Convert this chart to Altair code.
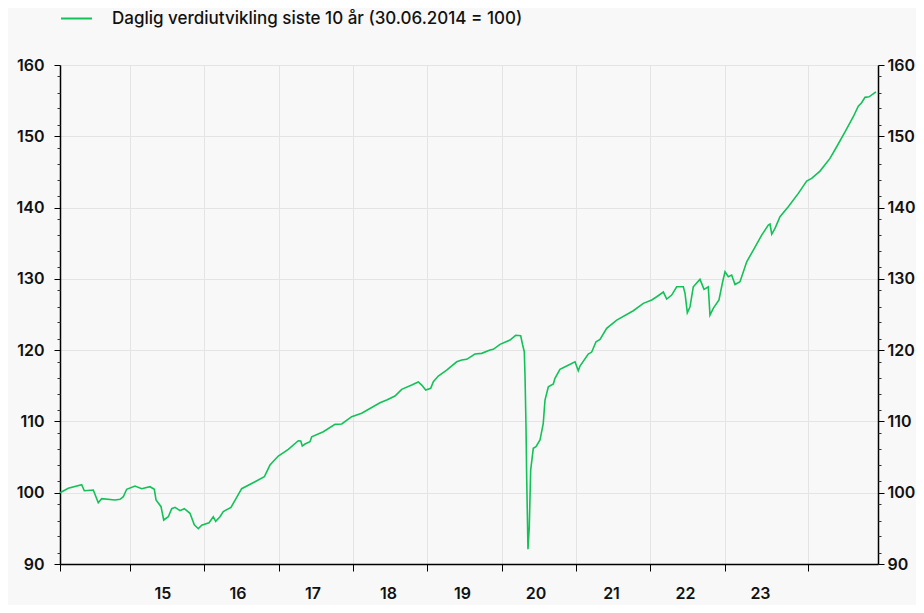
import altair as alt
import pandas as pd

SERIES = "Daglig verdiutvikling siste 10 år (30.06.2014 = 100)"

# decimal year of observation
T = [2014.500, 2014.601, 2014.765, 2014.797, 2014.907, 2014.968, 2015.010, 2015.172, 2015.234, 2015.274,
     2015.315, 2015.417, 2015.499, 2015.600, 2015.653, 2015.674, 2015.735, 2015.768, 2015.824, 2015.866,
     2015.906, 2015.967, 2016.020, 2016.089, 2016.142, 2016.191, 2016.232, 2016.322, 2016.374, 2016.403,
     2016.456, 2016.496, 2016.590, 2016.660, 2016.721, 2016.884, 2016.998, 2017.067, 2017.169, 2017.291,
     2017.413, 2017.443, 2017.462, 2017.495, 2017.556, 2017.577, 2017.719, 2017.862, 2017.944, 2018.066,
     2018.188, 2018.412, 2018.494, 2018.595, 2018.677, 2018.800, 2018.880, 2018.922, 2018.971, 2019.032,
     2019.064, 2019.125, 2019.227, 2019.350, 2019.411, 2019.472, 2019.573, 2019.655, 2019.757, 2019.797,
     2019.879, 2020.001, 2020.071, 2020.132, 2020.156, 2020.176, 2020.185, 2020.197, 2020.205, 2020.221,
     2020.237, 2020.254, 2020.286, 2020.319, 2020.368, 2020.408, 2020.429, 2020.470, 2020.531, 2020.551,
     2020.612, 2020.694, 2020.796, 2020.836, 2020.857, 2020.958, 2021.000, 2021.053, 2021.102, 2021.183,
     2021.306, 2021.509, 2021.631, 2021.734, 2021.795, 2021.876, 2021.917, 2021.978, 2022.039, 2022.120,
     2022.141, 2022.169, 2022.202, 2022.242, 2022.324, 2022.373, 2022.425, 2022.446, 2022.486, 2022.556,
     2022.601, 2022.630, 2022.670, 2022.711, 2022.752, 2022.813, 2022.895, 2022.976, 2023.078, 2023.159,
     2023.180, 2023.201, 2023.241, 2023.302, 2023.403, 2023.526, 2023.628, 2023.689, 2023.791, 2023.913,
     2023.995, 2024.097, 2024.198, 2024.259, 2024.300, 2024.341, 2024.391, 2024.475]

# index value (30.06.2014 = 100)
V = [100.00, 100.62, 101.12, 100.28, 100.38, 98.60, 99.16, 98.98, 99.07, 99.44,
     100.48, 100.94, 100.56, 100.84, 100.48, 98.98, 98.04, 96.17, 96.63, 97.76,
     97.95, 97.48, 97.76, 97.11, 95.51, 94.95, 95.43, 95.79, 96.63, 95.99,
     96.63, 97.34, 97.95, 99.35, 100.56, 101.54, 102.24, 103.88, 105.15, 106.09,
     107.29, 107.25, 106.55, 106.83, 107.15, 107.85, 108.55, 109.59, 109.64, 110.66,
     111.14, 112.62, 113.00, 113.56, 114.50, 115.10, 115.53, 115.10, 114.40, 114.64,
     115.57, 116.37, 117.21, 118.37, 118.61, 118.71, 119.45, 119.55, 120.01, 120.11,
     120.81, 121.42, 122.08, 122.02, 120.72, 119.78, 116.27, 109.26, 102.24, 92.06,
     95.23, 103.18, 106.23, 106.45, 107.39, 109.73, 113.00, 114.87, 115.25, 116.04,
     117.31, 117.77, 118.37, 117.11, 117.77, 119.45, 119.73, 121.18, 121.51, 123.06,
     124.22, 125.53, 126.56, 127.03, 127.49, 128.15, 127.17, 127.73, 128.89, 128.89,
     127.97, 125.25, 126.09, 128.89, 129.93, 128.53, 128.89, 124.92, 125.86, 127.03,
     129.59, 131.00, 130.29, 130.53, 129.20, 129.59, 132.40, 134.04, 136.14, 137.54,
     137.69, 136.28, 137.08, 138.71, 140.11, 141.99, 143.72, 144.09, 145.12, 146.90,
     148.53, 150.63, 152.74, 154.23, 154.70, 155.46, 155.54, 156.24]

X_DOMAIN = [2014.5, 2024.5]
X_TICKS = [2014.5, 2015.356, 2016.264, 2017.174, 2018.086, 2018.990, 2019.900,
           2020.808, 2021.716, 2022.626, 2023.648]
X_LABEL_POS = [2015.752, 2016.670, 2017.586, 2018.510, 2019.414, 2020.313,
               2021.236, 2022.141, 2023.057]
X_LABELS = ["15", "16", "17", "18", "19", "20", "21", "22", "23"]

Y_DOMAIN = [90, 160]
Y_MAJOR = [90, 100, 110, 120, 130, 140, 150, 160]
Y_MINOR_STEPS = [1.6, 3.9, 6.1, 8.4]

GREEN = "#12c257"
FONT = "Inter"
TEXT = "#111111"
GRID = "#e4e4e4"
BG = "#f8f8f8"
AXIS_FS = 16
AXIS_FW = 600

Y_MINOR = [a + s for a in Y_MAJOR[:-1] for s in Y_MINOR_STEPS]

label_expr = " : ".join(
    f"abs(datum.value - {p}) < 0.001 ? '{l}'" for p, l in zip(X_LABEL_POS, X_LABELS)
) + " : ''"

df = pd.DataFrame({"t": T, "v": V, "series": SERIES})

x_scale = alt.Scale(domain=X_DOMAIN, nice=False, zero=False)
y_scale = alt.Scale(domain=Y_DOMAIN, nice=False, zero=False)

base = alt.Chart(df)

line = base.mark_line(strokeWidth=1.6).encode(
    x=alt.X("t:Q", scale=x_scale, title=None,
            axis=alt.Axis(orient="bottom", values=X_TICKS, labels=False, ticks=True,
                          tickSize=7, tickColor="#000", tickWidth=1,
                          domain=True, domainColor="#000", domainWidth=1.5,
                          grid=True, gridColor=GRID, gridWidth=1)),
    y=alt.Y("v:Q", scale=y_scale, title=None,
            axis=alt.Axis(orient="left", values=Y_MAJOR, tickSize=6, tickColor="#000",
                          domain=True, domainColor="#000", domainWidth=1.5,
                          grid=True, gridColor=GRID, gridWidth=1,
                          labelFont=FONT, labelFontSize=AXIS_FS, labelFontWeight=AXIS_FW,
                          labelColor=TEXT, labelPadding=10, labelFlush=False,
                          labelOverlap=False)),
    color=alt.Color("series:N", scale=alt.Scale(range=[GREEN]),
                    legend=alt.Legend(title=None, orient="none", legendX=0, legendY=-63,
                                      symbolType="stroke", symbolSize=961,
                                      symbolStrokeWidth=2, labelFont=FONT,
                                      labelFontSize=17, labelFontWeight=500,
                                      labelColor=TEXT, labelOffset=19, labelLimit=0,
                                      padding=0)),
)

labels_layer = base.mark_line(opacity=0).encode(
    x=alt.X("t:Q", scale=x_scale, title=None,
            axis=alt.Axis(orient="bottom", values=X_LABEL_POS, labelExpr=label_expr,
                          ticks=False, domain=False, grid=False, labelPadding=21,
                          labelFont=FONT, labelFontSize=AXIS_FS, labelFontWeight=AXIS_FW,
                          labelColor=TEXT, labelFlush=False, labelOverlap=False)),
    y=alt.Y("v:Q", scale=y_scale, title=None,
            axis=alt.Axis(orient="right", values=Y_MAJOR, tickSize=6, tickColor="#000",
                          domain=True, domainColor="#000", domainWidth=1.5, grid=False,
                          labelFont=FONT, labelFontSize=AXIS_FS, labelFontWeight=AXIS_FW,
                          labelColor=TEXT, labelPadding=3, labelFlush=False,
                          labelOverlap=False)),
)

minor_left = base.mark_line(opacity=0).encode(
    x=alt.X("t:Q", scale=x_scale, axis=None),
    y=alt.Y("v:Q", scale=y_scale, title=None,
            axis=alt.Axis(orient="left", values=Y_MINOR, labels=False, tickSize=3,
                          tickColor="#333", domain=False, grid=False)),
)

minor_right = base.mark_line(opacity=0).encode(
    x=alt.X("t:Q", scale=x_scale, axis=None),
    y=alt.Y("v:Q", scale=y_scale, title=None,
            axis=alt.Axis(orient="right", values=Y_MINOR, labels=False, tickSize=3,
                          tickColor="#333", domain=False, grid=False)),
)

chart = (
    alt.layer(line, labels_layer, minor_left, minor_right)
    .resolve_scale(x="shared", y="shared")
    .resolve_axis(x="independent", y="independent")
    .properties(width=818, height=499,
                autosize=alt.AutoSizeParams(type="none"),
                padding={"left": 52, "top": 57, "right": 38, "bottom": 41})
    .configure(background=BG)
    .configure_view(stroke=None)
)

chart.save("out.html", embed_options={"renderer": "svg", "actions": False})
